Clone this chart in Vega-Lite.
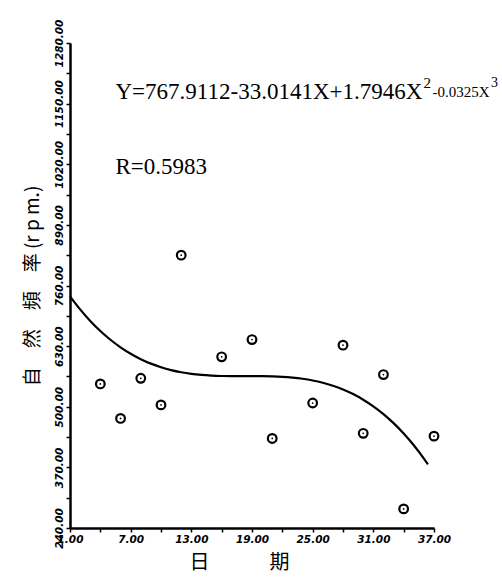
{
  "$schema": "https://vega.github.io/schema/vega-lite/v6.json",
  "width": 364,
  "height": 485,
  "autosize": {"type": "none"},
  "padding": {"left": 70, "top": 43, "right": 68, "bottom": 54},
  "background": "white",
  "config": {
    "view": {"stroke": null},
    "axis": {
      "domainColor": "black",
      "domainWidth": 2.5,
      "tickColor": "black",
      "tickWidth": 1.5,
      "tickSize": 4,
      "grid": false,
      "labelColor": "black",
      "labelFont": "DejaVu Sans",
      "labelFontStyle": "italic",
      "labelFontWeight": "bold",
      "labelFontSize": 10.5,
      "labelPadding": 2,
      "titleColor": "black",
      "titleFont": "Noto Sans CJK TC",
      "titleFontWeight": "normal"
    }
  },
  "datasets": {
    "observed": [
      {"day": 4, "rpm": 549},
      {"day": 6, "rpm": 475},
      {"day": 8, "rpm": 561},
      {"day": 10, "rpm": 504},
      {"day": 12, "rpm": 825},
      {"day": 16, "rpm": 607},
      {"day": 19, "rpm": 644},
      {"day": 21, "rpm": 432},
      {"day": 25, "rpm": 508},
      {"day": 28, "rpm": 632},
      {"day": 30, "rpm": 443},
      {"day": 32, "rpm": 569},
      {"day": 34, "rpm": 281},
      {"day": 37, "rpm": 437}
    ],
    "cubicFit": [
      {"day": 1, "rpm": 736.66},
      {"day": 2, "rpm": 708.80},
      {"day": 3, "rpm": 684.14},
      {"day": 4, "rpm": 662.49},
      {"day": 5, "rpm": 643.64},
      {"day": 6, "rpm": 627.41},
      {"day": 7, "rpm": 613.60},
      {"day": 8, "rpm": 602.01},
      {"day": 9, "rpm": 592.45},
      {"day": 10, "rpm": 584.73},
      {"day": 11, "rpm": 578.65},
      {"day": 12, "rpm": 574.00},
      {"day": 13, "rpm": 570.61},
      {"day": 14, "rpm": 568.28},
      {"day": 15, "rpm": 566.80},
      {"day": 16, "rpm": 565.98},
      {"day": 17, "rpm": 565.64},
      {"day": 18, "rpm": 565.57},
      {"day": 19, "rpm": 565.58},
      {"day": 20, "rpm": 565.47},
      {"day": 21, "rpm": 565.05},
      {"day": 22, "rpm": 564.13},
      {"day": 23, "rpm": 562.50},
      {"day": 24, "rpm": 559.98},
      {"day": 25, "rpm": 556.37},
      {"day": 26, "rpm": 551.47},
      {"day": 27, "rpm": 545.10},
      {"day": 28, "rpm": 537.04},
      {"day": 29, "rpm": 527.12},
      {"day": 30, "rpm": 515.13},
      {"day": 31, "rpm": 500.88},
      {"day": 32, "rpm": 484.17},
      {"day": 33, "rpm": 464.81},
      {"day": 34, "rpm": 442.61},
      {"day": 35, "rpm": 417.37},
      {"day": 36, "rpm": 388.89},
      {"day": 36.4, "rpm": 376.54}
    ],
    "notes": [
      {"day": 5.5, "rpm": 1175, "text": "Y=767.9112-33.0141X+1.7946X", "size": 23},
      {"day": 35.95, "rpm": 1195, "text": "2", "size": 15},
      {"day": 36.85, "rpm": 1175, "text": "-0.0325X", "size": 15},
      {"day": 42.64, "rpm": 1195, "text": "3", "size": 14},
      {"day": 5.5, "rpm": 1014, "text": "R=0.5983", "size": 23}
    ]
  },
  "encoding": {
    "x": {
      "field": "day",
      "type": "quantitative",
      "scale": {"domain": [1, 37], "nice": false, "zero": false},
      "axis": {
        "title": "日　　　期",
        "titleFontSize": 20,
        "titlePadding": 8,
        "titleX": 169,
        "values": [1, 4, 7, 10, 13, 16, 19, 22, 25, 28, 31, 34, 37],
        "labelExpr": "(datum.value - 1) % 6 == 0 ? format(datum.value, '.2f') : ''",
        "labelFlush": false
      }
    },
    "y": {
      "field": "rpm",
      "type": "quantitative",
      "scale": {"domain": [240, 1280], "nice": false, "zero": false},
      "axis": {
        "title": "自　然　頻　率 (r p m.)",
        "titleFontSize": 19,
        "titlePadding": 12,
        "labelAngle": -90,
        "values": [240, 305, 370, 435, 500, 565, 630, 695, 760, 825, 890, 955, 1020, 1085, 1150, 1215, 1280],
        "labelExpr": "(datum.value - 240) % 130 == 0 ? format(datum.value, '.2f') : ''",
        "labelFlush": false
      }
    }
  },
  "layer": [
    {
      "data": {"name": "cubicFit"},
      "mark": {"type": "line", "color": "black", "strokeWidth": 2.2, "interpolate": "monotone"}
    },
    {
      "data": {"name": "observed"},
      "mark": {"type": "point", "shape": "circle", "filled": false, "stroke": "black", "strokeWidth": 2.2, "size": 75, "opacity": 1}
    },
    {
      "data": {"name": "observed"},
      "mark": {"type": "point", "shape": "circle", "filled": true, "color": "black", "size": 3, "opacity": 1}
    },
    {
      "data": {"name": "notes"},
      "mark": {"type": "text", "align": "left", "baseline": "middle", "font": "Liberation Serif", "color": "black"},
      "encoding": {
        "text": {"field": "text", "type": "nominal"},
        "size": {"field": "size", "type": "quantitative", "scale": null, "legend": null}
      }
    }
  ]
}
